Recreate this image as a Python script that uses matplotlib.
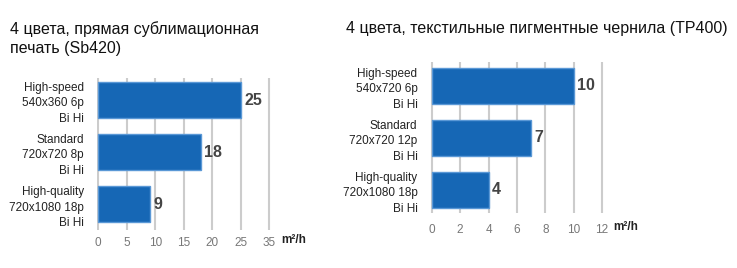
import matplotlib
matplotlib.use("Agg")
import matplotlib.pyplot as plt

plt.rcParams['font.family'] = ['Liberation Sans', 'DejaVu Sans']

W, H = 737, 268

# Sb420 sublimation printing
sb_title = "4 цвета, прямая сублимационная\nпечать (Sb420)"
sb_modes = ["High-speed\n540x360 6p\nBi Hi", "Standard\n720x720 8p\nBi Hi", "High-quality\n720x1080 18p\nBi Hi"]
sb_speed = [25, 18, 9]
sb_ticks = [0, 5, 10, 15, 20, 25, 30]
sb_ticklabels = ["0", "5", "10", "15", "20", "25", "35"]

# TP400 textile pigment inks
tp_title = "4 цвета, текстильные пигментные чернила (TP400)"
tp_modes = ["High-speed\n540x720 6p\nBi Hi", "Standard\n720x720 12p\nBi Hi", "High-quality\n720x1080 18p\nBi Hi"]
tp_speed = [10, 7, 4]
tp_ticks = [0, 2, 4, 6, 8, 10, 12]
tp_ticklabels = ["0", "2", "4", "6", "8", "10", "12"]

unit = "m²/h"

BAR = "#1667b5"
EDGE = "#5a98d6"
GRID = "#cccccc"

fig = plt.figure(figsize=(W / 100, H / 100), dpi=100)


def px_axes(x0, y_top, x1, y_bot):
    return fig.add_axes([x0 / W, 1 - y_bot / H, (x1 - x0) / W, (y_bot - y_top) / H])


def draw(ax, modes, speed, ticks, ticklabels, xmax, ylim, tickpad):
    ypos = list(range(len(modes)))
    ax.barh(ypos, speed, height=0.7, color=BAR, edgecolor=EDGE, linewidth=1.0, zorder=3)
    for y, v in zip(ypos, speed):
        ax.text(v + xmax * 0.02, y, str(v), va="center", ha="left",
                fontsize=11.5, fontweight="bold", color="#444444")
    ax.set_xlim(-xmax * 0.01, xmax * 1.03)
    ax.set_ylim(*ylim)
    ax.set_xticks(ticks)
    ax.set_xticklabels(ticklabels)
    for t in ticks:
        ax.axvline(t, color=GRID, linewidth=1.5, zorder=1)
    ax.set_yticks(ypos)
    ax.set_yticklabels(modes, fontsize=8.5, color="#222222", linespacing=1.4)
    ax.tick_params(axis="y", length=0, pad=9)
    ax.tick_params(axis="x", length=0, pad=tickpad, labelsize=8.5, labelcolor="#777777")
    for s in ax.spines.values():
        s.set_visible(False)
    ax.patch.set_alpha(0)


# left panel: 0..30 spans 98.3..269.3 px
ax1 = px_axes(98.3 - 0.3 * 5.7, 77.7, 98.3 + 30.9 * 5.7, 230)
draw(ax1, sb_modes, sb_speed, sb_ticks, sb_ticklabels, 30, (2.495, -0.428), 5)

# right panel: 0..12 spans 431.7..602.3 px
ax2 = px_axes(431.7 - 0.12 * 14.2, 62, 431.7 + 12.36 * 14.2, 213)
draw(ax2, tp_modes, tp_speed, tp_ticks, tp_ticklabels, 12, (2.446, -0.458), 8)

fig.text(10 / W, 1 - 21 / H, sb_title, fontsize=11.5, color="#111111",
         va="top", ha="left", linespacing=1.33)
fig.text(346 / W, 1 - 21 / H, tp_title, fontsize=11.5, color="#111111",
         va="top", ha="left")

fig.text(281 / W, 1 - 240 / H, unit, fontsize=8.5, fontweight="bold",
         color="#222222", va="center", ha="left")
fig.text(613 / W, 1 - 227 / H, unit, fontsize=8.5, fontweight="bold",
         color="#222222", va="center", ha="left")

fig.savefig("out.png", dpi=100)
